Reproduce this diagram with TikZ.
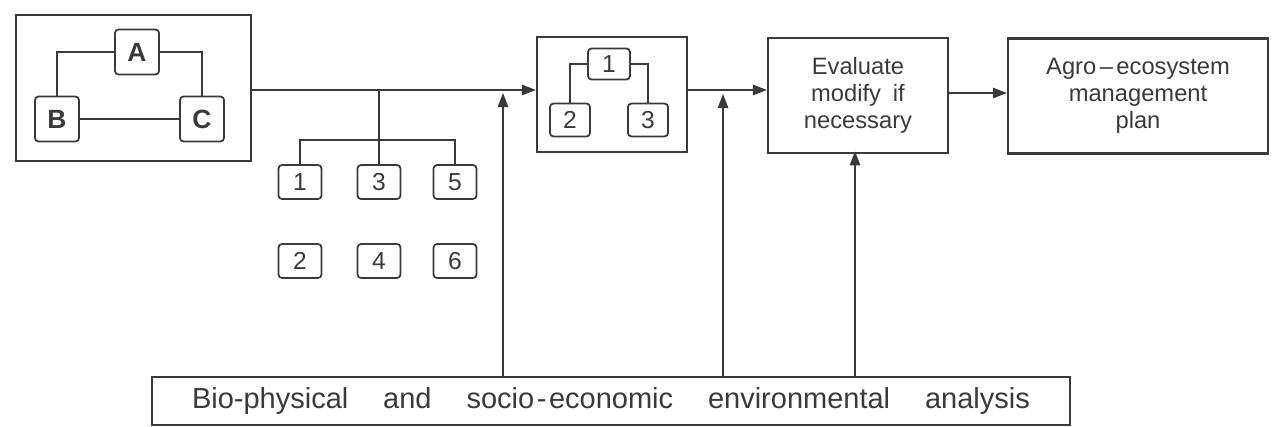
\documentclass[tikz,border=0pt]{standalone}
\usepackage{fontspec}
\setmainfont{Liberation Sans}
\definecolor{inkgray}{HTML}{3A3A3A}
\usepackage{tikz}
\usetikzlibrary{arrows.meta, positioning, calc}

\begin{document}
\begin{tikzpicture}[x=0.02cm, y=-0.02cm, inkgray,
  bigbox/.style={draw, line width=1.3pt, minimum height=2.3cm, align=center,
                 font=\fontsize{13.5}{15.5}\selectfont, inner sep=2pt},
  letterbox/.style={draw, line width=1pt, rounded corners=2pt, minimum width=0.88cm,
                    minimum height=0.9cm, font=\fontsize{15}{15}\selectfont\bfseries},
  numbox/.style={draw, line width=1pt, rounded corners=2pt, minimum width=0.86cm,
                 minimum height=0.68cm, inner sep=0pt, font=\fontsize{14}{14}\selectfont},
  link/.style={line width=0.8pt},
  flow/.style={line width=0.8pt, -{Triangle[length=8pt, width=6pt]}},
]
  \useasboundingbox (0,0) rectangle (1273,426);

  % system sketch A-B-C
  \node[bigbox, minimum width=4.7cm, minimum height=2.92cm] (sys) at (133.5,88) {};
  \node[letterbox] (A) at (137,52) {A};
  \node[letterbox] (B) at (57,119) {B};
  \node[letterbox] (C) at (202,119) {C};
  \draw[link] (A.west) -| (B.north);
  \draw[link] (A.east) -| (C.north);
  \draw[link] (B) -- (C);

  % alternatives
  \node[numbox] (s1) at (300,182) {1};
  \node[numbox] (s3) at (379,182) {3};
  \node[numbox] (s5) at (455,182) {5};
  \node[numbox] (s2) at (300,261) {2};
  \node[numbox] (s4) at (379,261) {4};
  \node[numbox] (s6) at (455,261) {6};

  % chosen system
  \node[bigbox, minimum width=3.0cm] (pick) at (612,94.5) {};
  \node[numbox, minimum width=0.84cm, minimum height=0.62cm] (p1) at (609,64) {1};
  \node[numbox, minimum width=0.8cm, minimum height=0.66cm] (p2) at (570,120) {2};
  \node[numbox, minimum width=0.8cm, minimum height=0.66cm] (p3) at (648,120) {3};
  \draw[link] (p1.west) -| (p2.north);
  \draw[link] (p1.east) -| (p3.north);

  \node[bigbox, minimum width=3.6cm] (eval) at (858,95.5)
    {Evaluate\\modify\enspace if\\necessary};
  \node[bigbox, minimum width=5.2cm] (plan) at (1138,96)
    {Agro\kern2pt–\kern2pt ecosystem\\management\\plan};

  \node[draw, line width=1.3pt, minimum width=18.36cm, minimum height=0.96cm,
        font=\fontsize{16.5}{16.5}\selectfont] (base) at (611,401)
    {\makebox[16.76cm][s]{Bio-physical and socio\kern1.5pt-\kern1.5pt economic environmental analysis}};

  % main flow
  \coordinate (m) at (0,90);
  \coordinate (j1) at (379,90);
  \coordinate (br) at (379,140);
  \coordinate (up1) at (503,93);
  \coordinate (up2) at (723,94);
  \draw[flow] (sys.east |- m) -- (pick.west |- m);
  \draw[link] (j1) -- (s3.north);
  \draw[link] (s1.north) |- (br) -| (s5.north);
  \draw[flow] (pick.east |- m) -- (eval.west |- m);
  \draw[flow] (eval.east |- 0,93) -- (plan.west |- 0,93);

  % analysis feeds
  \draw[flow] (base.north -| up1) -- (up1);
  \draw[flow] (base.north -| up2) -- (up2);
  \draw[flow] (base.north -| eval.south) ++(-3,0) -- ++(0,-224.5);
\end{tikzpicture}
\end{document}
